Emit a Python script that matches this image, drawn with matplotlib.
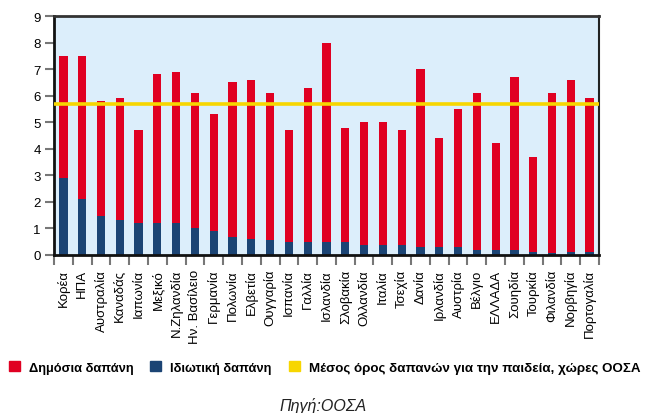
import matplotlib
matplotlib.use("Agg")
import matplotlib.pyplot as plt
from matplotlib.patches import Patch
import numpy as np

countries = ["Κορέα", "ΗΠΑ", "Αυστραλία", "Καναδάς", "Ιαπωνία", "Μεξικό",
             "Ν.Ζηλανδία", "Ην. Βασίλειο", "Γερμανία", "Πολωνία", "Ελβετία",
             "Ουγγαρία", "Ισπανία", "Γαλλία", "Ισλανδία", "Σλοβακία", "Ολλανδία",
             "Ιταλία", "Τσεχία", "Δανία", "Ιρλανδία", "Αυστρία", "Βέλγιο",
             "ΕΛΛΑΔΑ", "Σουηδία", "Τουρκία", "Φιλανδία", "Νορβηγία", "Πορτογαλία"]
total = [7.5, 7.5, 5.8, 5.9, 4.7, 6.8, 6.9, 6.1, 5.3, 6.5, 6.6, 6.1, 4.7, 6.3, 8.0,
         4.8, 5.0, 5.0, 4.7, 7.0, 4.4, 5.5, 6.1, 4.2, 6.7, 3.7, 6.1, 6.6, 5.9]
private = [2.9, 2.1, 1.45, 1.3, 1.2, 1.2, 1.2, 1.0, 0.9, 0.68, 0.6, 0.55, 0.48, 0.48, 0.48,
           0.48, 0.38, 0.38, 0.38, 0.3, 0.3, 0.3, 0.18, 0.18, 0.18, 0.1, 0.06, 0.1, 0.1]
public = [t - p for t, p in zip(total, private)]
oecd_mean = 5.68

labels = ["Δημόσια δαπάνη", "Ιδιωτική δαπάνη",
          "Μέσος όρος δαπανών για την παιδεία, χώρες ΟΟΣΑ"]
source = "Πηγή:ΟΟΣΑ"

RED = "#E00022"
BLUE = "#1B4474"
YELLOW = "#F7D600"
BG = "#DCEEFB"

plt.rcParams["font.family"] = ["Liberation Sans", "DejaVu Sans"]

fig = plt.figure(figsize=(6.47, 4.14), dpi=100)
ax = fig.add_axes([54/647, 1-256/414, (599-54)/647, (256-17)/414])
ax.set_facecolor(BG)

x = np.arange(len(countries))
w = 0.44
ax.bar(x, private, width=w, color=BLUE, zorder=2)
ax.bar(x, public, width=w, bottom=private, color=RED, zorder=2)
ax.axhline(oecd_mean, color=YELLOW, lw=2.6, zorder=3)

ax.set_xlim(-0.5, len(countries) - 0.5)
ax.set_ylim(0, 9)
ax.set_yticks(range(0, 10))
ax.tick_params(axis="y", length=6.5, width=1.5, color="#777777", labelsize=9.5, pad=3)

ax.set_xticks(x)
ax.set_xticklabels(countries, rotation=90, fontsize=9.5)
ax.tick_params(axis="x", which="major", length=0, pad=10)
ax.set_xticks(np.arange(-0.5, len(countries), 1.0), minor=True)
ax.tick_params(axis="x", which="minor", length=7, width=1.5, color="#777777")

for s in ["left", "bottom"]:
    ax.spines[s].set_linewidth(2)
    ax.spines[s].set_color("#111111")
ax.spines["top"].set_linewidth(2)
ax.spines["top"].set_color("#333333")
ax.spines["right"].set_linewidth(1.5)
ax.spines["right"].set_color("#222222")

handles = [Patch(color=RED), Patch(color=BLUE), Patch(color=YELLOW)]
leg = fig.legend(handles, labels, loc="center left", bbox_to_anchor=(9/647, 1-368.5/414),
                 ncol=3, frameon=False, borderpad=0, borderaxespad=0,
                 handlelength=0.85, handleheight=0.85, handletextpad=0.7,
                 columnspacing=1.3, prop={"weight": "bold", "size": 9.3})
leg.get_texts()[2].set_fontsize(9.6)

fig.text(323/647, 1-406/414, source, ha="center", va="center",
         fontsize=11.5, style="italic", color="#222222")

fig.savefig("out.png", dpi=100)
